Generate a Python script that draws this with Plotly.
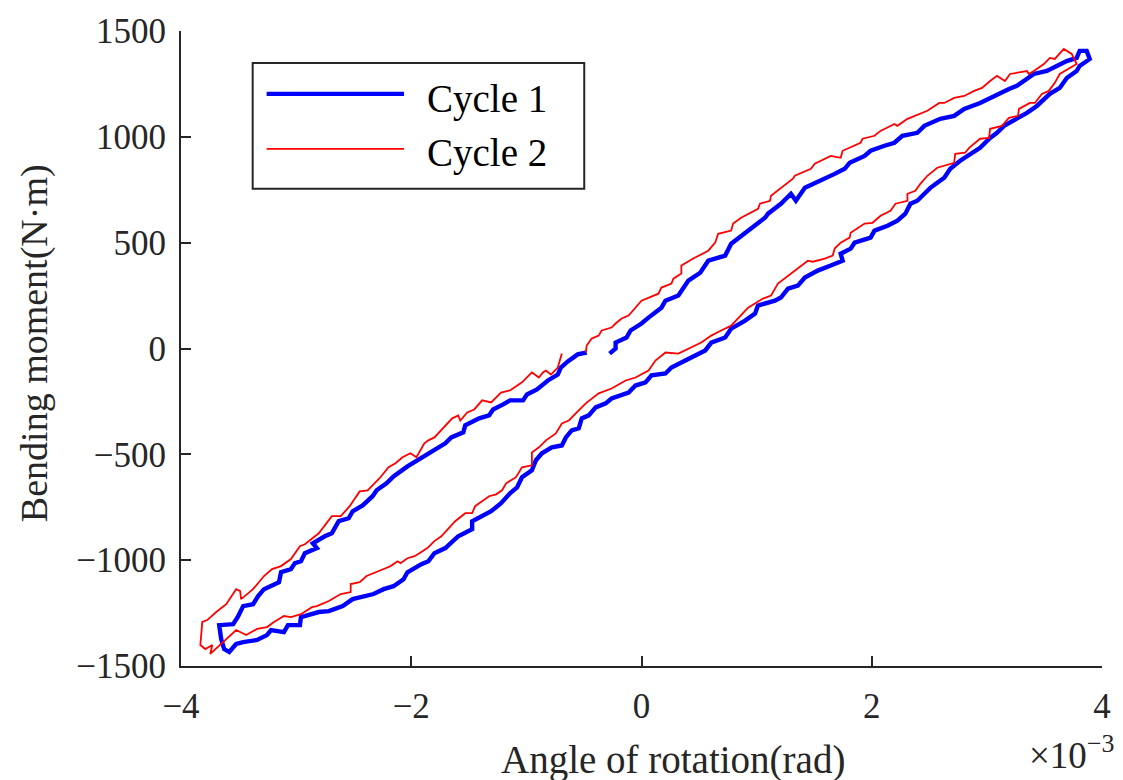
import plotly.graph_objects as go

# ---------------- data (rotation in 1e-3 rad, moment in N·m) ----------------
# Cycle 1: loading branch (start near origin -> positive peak)
c1_load_rot = [-0.277, -0.225, -0.225, -0.130, -0.095, 0.000, 0.061, 0.173, 0.208, 0.320,
               0.407, 0.510, 0.580, 0.727, 0.779, 0.926, 1.073, 1.099, 1.211, 1.298,
               1.341, 1.419, 1.557, 1.678, 1.765, 1.808, 1.938, 1.990, 2.111, 2.197,
               2.266, 2.396, 2.457, 2.595, 2.716, 2.803, 2.941, 3.062, 3.192, 3.261,
               3.348, 3.408, 3.521, 3.633, 3.694, 3.780, 3.806, 3.867, 3.893]
c1_load_mom = [-24, 0, 28, 52, 85, 118, 146, 193, 226, 250,
               321, 358, 415, 439, 495, 557, 618, 637, 684, 731,
               698, 759, 792, 825, 849, 877, 910, 934, 958, 972,
               1005, 1019, 1052, 1085, 1099, 1132, 1160, 1193, 1226, 1241,
               1274, 1297, 1311, 1344, 1358, 1373, 1406, 1406, 1368]
# Cycle 1: unloading branch (positive peak -> negative peak)
c1_unload_rot = [3.806, 3.780, 3.694, 3.633, 3.547, 3.434, 3.348, 3.261, 3.149, 3.088,
                 3.028, 2.941, 2.855, 2.768, 2.682, 2.630, 2.569, 2.509, 2.457, 2.396,
                 2.336, 2.292, 2.223, 2.137, 2.024, 1.990, 1.851, 1.817, 1.730, 1.747,
                 1.644, 1.531, 1.419, 1.358, 1.272, 1.211, 1.159, 1.012, 0.986, 0.900,
                 0.779, 0.727, 0.606, 0.554, 0.467, 0.381, 0.260, 0.208, 0.087, 0.035,
                 -0.052, -0.112, -0.199, -0.260, -0.311, -0.398, -0.458, -0.519, -0.545, -0.606,
                 -0.657, -0.692, -0.779, -0.865, -0.917, -0.952, -1.038, -1.081, -1.142, -1.220,
                 -1.306, -1.384, -1.471, -1.471, -1.592, -1.704, -1.799, -1.851, -1.912, -2.033,
                 -2.067, -2.154, -2.240, -2.327, -2.422, -2.509, -2.595, -2.716, -2.803, -2.958,
                 -2.967, -3.071, -3.106, -3.218, -3.253, -3.339, -3.460, -3.521, -3.581, -3.625,
                 -3.651, -3.668]
c1_unload_mom = [1335, 1311, 1278, 1231, 1203, 1146, 1113, 1085, 1052, 1019,
                 995, 948, 920, 887, 849, 807, 783, 759, 731, 698,
                 684, 637, 604, 580, 557, 524, 500, 472, 448, 415,
                 392, 368, 335, 297, 283, 241, 226, 203, 165, 132,
                 94, 52, 28, -9, -33, -57, -90, -118, -127, -160,
                 -175, -208, -222, -236, -259, -278, -316, -330, -377, -387,
                 -420, -458, -467, -495, -528, -575, -608, -656, -684, -731,
                 -769, -792, -816, -854, -887, -943, -967, -1005, -1019, -1057,
                 -1090, -1123, -1137, -1160, -1175, -1184, -1217, -1241, -1245, -1269,
                 -1307, -1307, -1340, -1330, -1354, -1377, -1387, -1396, -1434, -1420,
                 -1373, -1307]
# Cycle 1: reloading branch (negative peak -> near origin)
c1_reload_rot = [-3.547, -3.503, -3.460, -3.374, -3.330, -3.279, -3.149, -3.131, -3.045, -3.010,
                 -2.958, -2.924, -2.820, -2.855, -2.751, -2.690, -2.630, -2.543, -2.509, -2.422,
                 -2.336, -2.301, -2.215, -2.154, -2.033, -1.946, -1.886, -1.799, -1.704, -1.652,
                 -1.548, -1.531, -1.410, -1.324, -1.289, -1.202, -1.142, -1.029, -0.995, -0.908,
                 -0.813, -0.727, -0.701, -0.640, -0.554, -0.476]
c1_reload_mom = [-1302, -1264, -1217, -1208, -1170, -1137, -1104, -1057, -1042, -1014,
                 -1005, -967, -943, -920, -887, -873, -816, -802, -769, -741,
                 -698, -670, -637, -604, -557, -528, -514, -481, -448, -420,
                 -396, -363, -330, -316, -288, -264, -245, -245, -217, -193,
                 -151, -123, -90, -61, -28, -19]

# Cycle 2: loading branch
c2_load_rot = [-0.484, -0.476, -0.433, -0.372, -0.346, -0.260, -0.225, -0.173, -0.112, -0.052,
               0.000, 0.147, 0.173, 0.260, 0.277, 0.346, 0.346, 0.450, 0.580, 0.640,
               0.666, 0.779, 0.796, 0.865, 1.012, 1.029, 1.116, 1.125, 1.211, 1.315,
               1.332, 1.471, 1.505, 1.618, 1.644, 1.730, 1.747, 1.903, 1.920, 2.024,
               2.076, 2.197, 2.223, 2.310, 2.483, 2.587, 2.630, 2.716, 2.803, 2.889,
               2.958, 3.028, 3.088, 3.157, 3.201, 3.348, 3.365, 3.408, 3.495, 3.547,
               3.590, 3.668, 3.737, 3.780]
c2_load_mom = [-19, 14, 47, 61, 85, 99, 118, 142, 156, 193,
               226, 259, 288, 307, 330, 354, 392, 425, 462, 500,
               542, 557, 590, 618, 660, 684, 698, 722, 759, 802,
               816, 849, 873, 901, 910, 901, 934, 972, 991, 1005,
               1028, 1061, 1052, 1085, 1123, 1160, 1160, 1184, 1193, 1217,
               1231, 1264, 1288, 1264, 1297, 1311, 1297, 1311, 1344, 1373,
               1368, 1415, 1392, 1344]
# Cycle 2: unloading branch
c2_unload_rot = [3.720, 3.633, 3.590, 3.538, 3.478, 3.417, 3.374, 3.330, 3.279, 3.270,
                 3.192, 3.131, 3.028, 3.019, 2.941, 2.846, 2.811, 2.725, 2.716, 2.569,
                 2.483, 2.422, 2.379, 2.310, 2.310, 2.206, 2.163, 2.076, 2.007, 1.938,
                 1.817, 1.808, 1.730, 1.678, 1.661, 1.592, 1.488, 1.445, 1.332, 1.298,
                 1.185, 1.125, 1.055, 0.926, 0.865, 0.779, 0.692, 0.606, 0.519, 0.433,
                 0.320, 0.208, 0.121, 0.061, -0.052, -0.138, -0.260, -0.372, -0.484, -0.571,
                 -0.631, -0.692, -0.744, -0.830, -0.891, -0.952, -0.952, -1.038, -1.090, -1.176,
                 -1.211, -1.263, -1.324, -1.410, -1.445, -1.471, -1.531, -1.618, -1.704, -1.739,
                 -1.799, -1.860, -1.929, -1.972, -2.033, -2.093, -2.119, -2.180, -2.223, -2.301,
                 -2.388, -2.448, -2.526, -2.526, -2.612, -2.716, -2.820, -2.863, -2.958, -3.045,
                 -3.106, -3.192, -3.253, -3.339, -3.434, -3.521, -3.607, -3.746]
c2_unload_mom = [1325, 1297, 1255, 1217, 1203, 1160, 1160, 1146, 1132, 1099,
                 1090, 1052, 1038, 995, 991, 948, 925, 920, 877, 854,
                 816, 778, 745, 731, 698, 684, 651, 627, 594, 590,
                 547, 524, 500, 472, 439, 425, 410, 415, 368, 354,
                 307, 250, 236, 193, 156, 108, 85, 61, 28, 5,
                 -24, -19, -57, -104, -137, -151, -189, -212, -259, -307,
                 -340, -354, -401, -434, -467, -491, -552, -561, -608, -637,
                 -670, -689, -698, -731, -745, -778, -778, -816, -863, -887,
                 -910, -943, -967, -981, -991, -1014, -1005, -1028, -1038, -1057,
                 -1075, -1104, -1113, -1151, -1160, -1193, -1217, -1222, -1255, -1269,
                 -1264, -1292, -1316, -1325, -1354, -1330, -1373, -1443]
# Cycle 2: reloading branch
c2_reload_rot = [-3.728, -3.789, -3.832, -3.815, -3.772, -3.694, -3.607, -3.521, -3.486, -3.478,
                 -3.374, -3.279, -3.209, -3.131, -3.045, -2.967, -2.924, -2.803, -2.690, -2.612,
                 -2.535, -2.448, -2.379, -2.275, -2.197, -2.137, -2.076, -2.007, -1.955, -1.886,
                 -1.851, -1.799, -1.644, -1.592, -1.574, -1.514, -1.453, -1.384, -1.306, -1.220,
                 -1.142, -1.038, -0.952, -0.891, -0.856, -0.830, -0.787, -0.727, -0.692]
c2_reload_mom = [-1401, -1420, -1401, -1292, -1283, -1245, -1208, -1137, -1146, -1184,
                 -1137, -1075, -1042, -1028, -995, -934, -925, -873, -792, -792,
                 -745, -675, -670, -613, -561, -542, -514, -495, -514, -448,
                 -434, -420, -330, -316, -340, -302, -288, -245, -255, -208,
                 -198, -160, -113, -137, -113, -104, -123, -90, -24]

series_names = ["Cycle 1", "Cycle 2"]
x_ticks = [-4, -2, 0, 2, 4]
x_tick_text = ["\u22124", "\u22122", "0", "2", "4"]
y_ticks = [-1500, -1000, -500, 0, 500, 1000, 1500]
y_tick_text = ["\u22121500", "\u22121000", "\u2212500", "0", "500", "1000", "1500"]
x_title = "Angle of rotation(rad)"
y_title = "Bending moment(N\u00b7m)"

# ---------------- styling / layout ----------------
W, H = 1123, 780
PL, PR, PT, PB = 181, 1106, 30, 666   # plot area in px
FONT = "Liberation Serif, Times New Roman, serif"
AX = "#262626"


def px(xp):
    return (xp - PL) / (PR - PL)


def py(yp):
    return (PB - yp) / (PB - PT)


c1_x = c1_load_rot + c1_unload_rot + c1_reload_rot
c1_y = c1_load_mom + c1_unload_mom + c1_reload_mom
c2_x = c2_load_rot + c2_unload_rot + c2_reload_rot
c2_y = c2_load_mom + c2_unload_mom + c2_reload_mom

fig = go.Figure()
fig.add_trace(go.Scatter(x=c1_x, y=c1_y, mode="lines", name=series_names[0],
                         line=dict(color="#0000FF", width=4.4), showlegend=False))
fig.add_trace(go.Scatter(x=c2_x, y=c2_y, mode="lines", name=series_names[1],
                         line=dict(color="#FF0000", width=1.8), showlegend=False))

axis_common = dict(showgrid=False, zeroline=False, showline=True, linecolor=AX, linewidth=2,
                   ticks="inside", ticklen=10, tickwidth=2, tickcolor=AX,
                   tickfont=dict(family=FONT, size=35, color=AX), fixedrange=True)
fig.update_xaxes(range=[-4, 4], tickvals=x_ticks, ticktext=x_tick_text,
                 ticklabelstandoff=8, **axis_common)
fig.update_yaxes(range=[-1500, 1500], tickvals=y_ticks, ticktext=y_tick_text,
                 ticklabelstandoff=6, **axis_common)

shapes = [
    # legend box
    dict(type="rect", xref="paper", yref="paper", x0=px(253), x1=px(586), y0=py(188), y1=py(62),
         line=dict(color=AX, width=2), fillcolor="white", layer="above"),
    dict(type="line", xref="paper", yref="paper", x0=px(267), x1=px(405), y0=py(93), y1=py(93),
         line=dict(color="#0000FF", width=4.4), layer="above"),
    dict(type="line", xref="paper", yref="paper", x0=px(267), x1=px(405), y0=py(148), y1=py(148),
         line=dict(color="#FF0000", width=1.8), layer="above"),
]

annotations = [
    dict(text=series_names[0], xref="paper", yref="paper", x=px(426), y=py(98),
         xanchor="left", yanchor="middle", showarrow=False, font=dict(family=FONT, size=39, color="black")),
    dict(text=series_names[1], xref="paper", yref="paper", x=px(426), y=py(152),
         xanchor="left", yanchor="middle", showarrow=False, font=dict(family=FONT, size=39, color="black")),
    dict(text=x_title, xref="paper", yref="paper", x=px(675), y=py(760),
         xanchor="center", yanchor="middle", showarrow=False, font=dict(family=FONT, size=39, color=AX)),
    dict(text=y_title, xref="paper", yref="paper", x=px(34), y=py(343), textangle=-90,
         xanchor="center", yanchor="middle", showarrow=False, font=dict(family=FONT, size=38, color=AX)),
    dict(text="\u00d710<sup>\u22123</sup>", xref="paper", yref="paper", x=px(1120), y=py(753),
         xanchor="right", yanchor="middle", showarrow=False, font=dict(family=FONT, size=37, color=AX)),
]

fig.update_layout(
    width=W, height=H,
    margin=dict(l=PL, r=W - PR, t=PT, b=H - PB, pad=0),
    paper_bgcolor="white", plot_bgcolor="white",
    shapes=shapes, annotations=annotations,
    showlegend=False,
    font=dict(family=FONT, color=AX),
)

fig.write_html("out.html", config={"displayModeBar": False})
